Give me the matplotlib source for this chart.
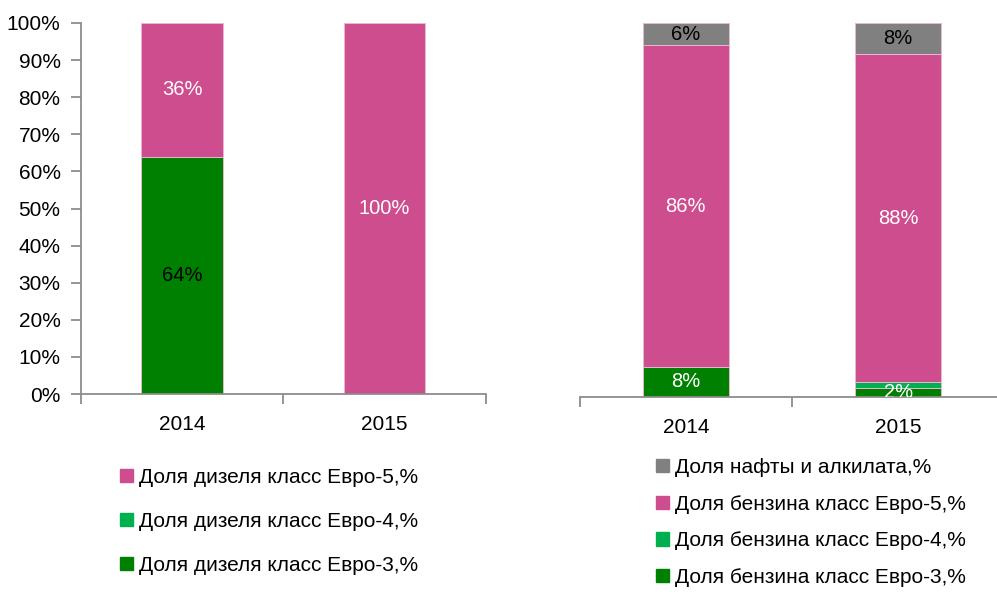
import matplotlib
matplotlib.use("Agg")
import matplotlib.pyplot as plt
from matplotlib.patches import Patch

plt.rcParams['font.family'] = ['Liberation Sans', 'DejaVu Sans']

years = ['2014', '2015']
# Diesel (left)
diesel_e3 = [64, 0]
diesel_e4 = [0, 0]
diesel_e5 = [36, 100]
diesel_e3_lbl = ['64%', '']
diesel_e5_lbl = ['36%', '100%']
# Gasoline (right)
gas_e3 = [8, 2.2]
gas_e4 = [0, 1.6]
gas_e5 = [86, 87.8]
naphtha = [6, 8.4]
gas_e3_lbl = ['8%', '2%']
gas_e5_lbl = ['86%', '88%']
naphtha_lbl = ['6%', '8%']

legend_left = ['Доля дизеля класс Евро-5,%', 'Доля дизеля класс Евро-4,%', 'Доля дизеля класс Евро-3,%']
legend_right = ['Доля нафты и алкилата,%', 'Доля бензина класс Евро-5,%',
                'Доля бензина класс Евро-4,%', 'Доля бензина класс Евро-3,%']

C_E3 = '#008000'
C_E4 = '#00B050'
C_E5 = '#CE4D8E'
C_NA = '#808080'
AX = '#8c8c8c'
FS = 15

fig = plt.figure(figsize=(9.97, 5.92), dpi=100)
H = 592.0
W = 997.0
axL = fig.add_axes([80.7 / W, (H - 394) / H, 405.3 / W, 371 / H])
axR = fig.add_axes([579.5 / W, (H - 396.7) / H, 425 / W, 373.7 / H])

x = [0, 1]

def style(ax, show_y):
    ax.set_xlim(-0.5, 1.5)
    ax.set_ylim(0, 100)
    for s in ['top', 'right']:
        ax.spines[s].set_visible(False)
    ax.spines['bottom'].set_color(AX)
    ax.spines['bottom'].set_linewidth(1.3)
    ax.spines['left'].set_color(AX)
    ax.spines['left'].set_linewidth(1.3)
    ax.set_xticks(x)
    ax.set_xticklabels(years, fontsize=FS)
    ax.tick_params(axis='x', which='major', length=0, pad=15)
    ax.set_xticks([-0.5, 0.5, 1.5], minor=True)
    ax.tick_params(axis='x', which='minor', length=7, width=1.3, color=AX)
    if show_y:
        ax.set_yticks(range(0, 101, 10))
        ax.set_yticklabels([f'{v}%' for v in range(0, 101, 10)], fontsize=FS)
        ax.tick_params(axis='y', length=7, width=1.3, color=AX, pad=7.5)
    else:
        ax.spines['left'].set_visible(False)
        ax.set_yticks([])

def stack(ax, series, colors, labels, tcolors, width):
    bottom = [0, 0]
    for vals, col, lbl, tc in zip(series, colors, labels, tcolors):
        ax.bar(x, vals, width, bottom=bottom, color=col, edgecolor='#e6b8cf', linewidth=0.7, zorder=2)
        for i in range(2):
            if lbl[i]:
                t = ax.text(x[i], bottom[i] + vals[i] / 2, lbl[i], ha='center', va='center',
                            fontsize=FS - 0.5, color=tc[i], zorder=3)
                t.set_clip_on(True)
        bottom = [b + v for b, v in zip(bottom, vals)]

stack(axL, [diesel_e3, diesel_e4, diesel_e5], [C_E3, C_E4, C_E5],
      [diesel_e3_lbl, ['', ''], diesel_e5_lbl],
      [['black', 'black'], ['white', 'white'], ['white', 'white']], 0.4)
stack(axR, [gas_e3, gas_e4, gas_e5, naphtha], [C_E3, C_E4, C_E5, C_NA],
      [gas_e3_lbl, ['', ''], gas_e5_lbl, naphtha_lbl],
      [['white', 'white'], ['white', 'white'], ['white', 'white'], ['black', 'black']], 0.405)
style(axL, True)
style(axR, False)

hl = [Patch(color=C_E5), Patch(color=C_E4), Patch(color=C_E3)]
hr = [Patch(color=C_NA), Patch(color=C_E5), Patch(color=C_E4), Patch(color=C_E3)]
fig.legend(hl, legend_left, loc='upper left', bbox_to_anchor=(120 / W, 1 - 468 / H),
           frameon=False, fontsize=FS, handlelength=0.6, handleheight=0.6,
           handletextpad=0.3, labelspacing=1.2, borderaxespad=0, borderpad=0)
fig.legend(hr, legend_right, loc='upper left', bbox_to_anchor=(656 / W, 1 - 458 / H),
           frameon=False, fontsize=FS, handlelength=0.6, handleheight=0.6,
           handletextpad=0.3, labelspacing=0.85, borderaxespad=0, borderpad=0)

fig.savefig('out.png', dpi=100)
